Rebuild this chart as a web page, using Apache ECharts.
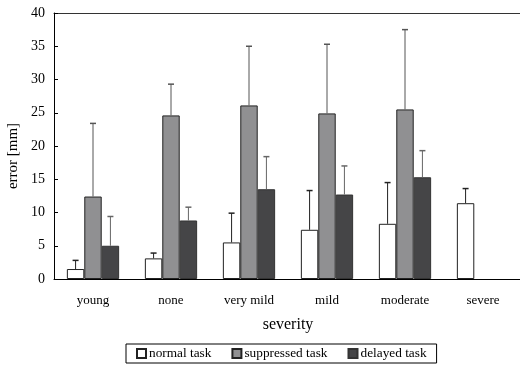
<!DOCTYPE html>
<html><head><meta charset="utf-8">
<script src="https://cdn.jsdelivr.net/npm/echarts@6/dist/echarts.min.js"></script>
<style>html,body{margin:0;padding:0;background:#fff}#c{width:520px;height:365px}</style>
</head><body><div id="c"></div>
<script>
const categories = ['young','none','very mild','mild','moderate','severe'];
const normalTask = [1.5, 3.1, 5.5, 7.4, 8.3, 11.4];
const normalTop = [2.8, 3.9, 9.9, 13.3, 14.5, 13.6];
const suppressedTask = [12.4, 24.6, 26.1, 24.9, 25.5, null];
const suppressedTop = [23.4, 29.3, 35.0, 35.3, 37.5, null];
const delayedTask = [5.0, 8.8, 13.5, 12.7, 15.3, null];
const delayedTop = [9.4, 10.8, 18.4, 17.0, 19.3, null];
const yTicks = [0,5,10,15,20,25,30,35,40];

const FONT = 'Liberation Serif';
const gapPct = 0.33;
function errSeries(name, vals, tops, idx, color){
  const data = [];
  vals.forEach((v,i)=>{ if(v!=null) data.push([i, v, tops[i]]); });
  return {
    type:'custom', name: name+'_err', silent:true, z:5,
    data,
    renderItem(params, api){
      const i = api.value(0);
      const band = api.size([1,0])[0];
      const bw = band*(1-gapPct)/3;
      const base = api.coord([i, api.value(1)]);
      const top = api.coord([i, api.value(2)]);
      const x = base[0] + (idx-1)*bw;
      return {type:'group', children:[
        {type:'line', shape:{x1:x,y1:base[1],x2:x,y2:top[1]}, style:{stroke:color,lineWidth:1}},
        {type:'line', shape:{x1:x-3,y1:top[1],x2:x+3,y2:top[1]}, style:{stroke:color,lineWidth:1.5}}
      ]};
    }
  };
}
const chart = echarts.init(document.getElementById('c'));
chart.setOption({
  animation:false,
  textStyle:{fontFamily:FONT},
  grid:{left:54, right:-2, top:13, bottom:86, outerBoundsMode:'none', containLabel:false},
  legend:{
    data:['normal task','suppressed task','delayed task'],
    left:126, top:344,
    icon:'rect', itemWidth:9, itemHeight:9, itemGap:20,
    borderColor:'#000', borderWidth:1, padding:[3,10,3,10],
    textStyle:{fontFamily:FONT, fontSize:13.3, color:'#000', padding:[0,0,0,-2]}
  },
  xAxis:[{
    type:'category', data:categories,
    name:'severity', nameLocation:'middle', nameGap:38,
    nameTextStyle:{fontFamily:FONT, fontSize:16, color:'#000'},
    axisLine:{lineStyle:{color:'#000', width:1}},
    axisTick:{inside:true, length:5, lineStyle:{color:'#000'}},
    axisLabel:{fontFamily:FONT, fontSize:13, color:'#000', margin:15}
  },{
    type:'category', data:categories, position:'top',
    axisLine:{lineStyle:{color:'#333', width:1}},
    axisTick:{show:false}, axisLabel:{show:false}
  }],
  yAxis:{
    type:'value', min:0, max:40, interval:5,
    name:'error [mm]', nameLocation:'middle', nameGap:32,
    nameTextStyle:{fontFamily:FONT, fontSize:15, color:'#000', padding:[0,20,0,0]},
    axisLine:{show:true, lineStyle:{color:'#000', width:1}},
    axisTick:{show:true, inside:true, length:4, lineStyle:{color:'#000'}},
    axisLabel:{fontFamily:FONT, fontSize:14, color:'#000', margin:9,
      formatter:v=> yTicks.includes(v)? String(v):''},
    splitLine:{show:false}
  },
  series:[
    {name:'normal task', type:'bar', data:normalTask, barGap:'0%', barCategoryGap:'33%',
     itemStyle:{color:'#fff', borderColor:'#222', borderWidth:1}},
    {name:'suppressed task', type:'bar', data:suppressedTask,
     itemStyle:{color:'#909092', borderColor:'#222', borderWidth:1}},
    {name:'delayed task', type:'bar', data:delayedTask,
     itemStyle:{color:'#454547', borderColor:'#333', borderWidth:1}},
    errSeries('normal task', normalTask, normalTop, 0, '#222'),
    errSeries('suppressed task', suppressedTask, suppressedTop, 1, '#555'),
    errSeries('delayed task', delayedTask, delayedTop, 2, '#666')
  ]
});
</script></body></html>
